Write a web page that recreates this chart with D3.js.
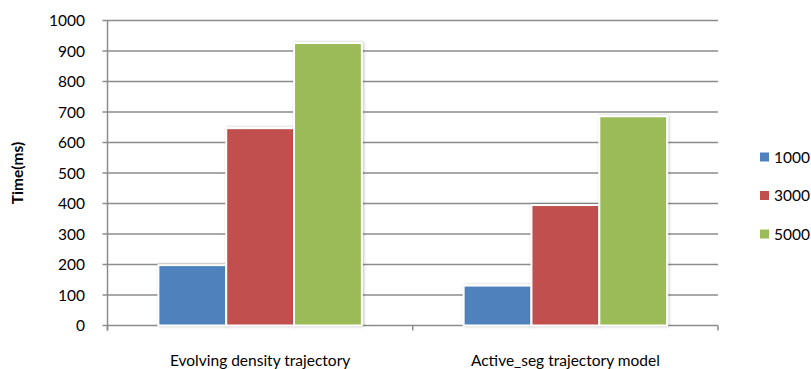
<!DOCTYPE html>
<html>
<head>
<meta charset="utf-8">
<script src="https://cdn.jsdelivr.net/npm/d3@7/dist/d3.min.js"></script>
<style>
  html, body { margin: 0; padding: 0; background: #ffffff; }
  svg { display: block; }
  text { font-family: Lato, "Open Sans", sans-serif; fill: #000; }
</style>
</head>
<body>
<svg id="chart" width="811" height="369"></svg>
<script>
const categories = ["Evolving density trajectory", "Active_seg trajectory model"];
const seriesNames = ["1000", "3000", "5000"];
const series1000 = [198, 131];
const series3000 = [647, 395];
const series5000 = [926, 686];
const seriesColors = ["#4F81BD", "#C0504D", "#9BBB59"];
const yTicks = [0, 100, 200, 300, 400, 500, 600, 700, 800, 900, 1000];
const yTitle = "Time(ms)";

const seriesValues = [series1000, series3000, series5000];

(function () {
const svg = d3.select("#chart");
const pLeft = 107.5, pRight = 718, pTop = 20.5, pBottom = 325.5;

const defs = svg.append("defs");
const f = defs.append("filter").attr("id", "shadow").attr("x", "-20%").attr("y", "-20%").attr("width", "140%").attr("height", "140%");
f.append("feDropShadow").attr("dx", 1).attr("dy", 0).attr("stdDeviation", 1.5).attr("flood-color", "#000").attr("flood-opacity", 0.25);

const x0 = d3.scaleBand().domain(categories).range([pLeft, pRight]).paddingInner(0).paddingOuter(0);
const x1 = d3.scaleBand().domain(seriesNames).range([0, x0.bandwidth()]).paddingInner(0).paddingOuter(0.75);
const y = d3.scaleLinear().domain([0, 1000]).range([pBottom, pTop]);

// gridlines
svg.append("g").selectAll("line").data(yTicks).enter().append("line")
  .attr("x1", pLeft - 5).attr("x2", pRight)
  .attr("y1", d => y(d)).attr("y2", d => y(d))
  .attr("stroke", "#8c8c8c").attr("stroke-width", 1.5);

// y axis line
svg.append("line").attr("x1", pLeft).attr("x2", pLeft).attr("y1", pTop).attr("y2", pBottom + 5)
  .attr("stroke", "#8c8c8c").attr("stroke-width", 1.5);

// x axis ticks at category boundaries
const bounds = [pLeft].concat(categories.map(c => x0(c) + x0.bandwidth()));
svg.append("g").selectAll("line").data(bounds).enter().append("line")
  .attr("x1", d => d).attr("x2", d => d).attr("y1", pBottom).attr("y2", pBottom + 5)
  .attr("stroke", "#8c8c8c").attr("stroke-width", 1.5);

// y tick labels
svg.append("g").selectAll("text").data(yTicks).enter().append("text")
  .attr("x", 85).attr("y", d => y(d) + 5.5)
  .attr("text-anchor", "end").attr("font-size", 15.5)
  .text(d => d);

// bars
const groups = svg.append("g").selectAll("g").data(categories).enter().append("g")
  .attr("transform", c => `translate(${x0(c)},0)`);
groups.selectAll("rect").data((c, ci) => seriesNames.map((s, si) => ({ s, si, v: seriesValues[si][ci] })))
  .enter().append("rect")
  .attr("x", d => x1(d.s))
  .attr("width", x1.bandwidth())
  .attr("y", d => y(d.v))
  .attr("height", d => y(0) - y(d.v))
  .attr("fill", d => seriesColors[d.si])
  .attr("stroke", "#ffffff").attr("stroke-width", 2)
  .attr("filter", "url(#shadow)");

// category labels
svg.append("g").selectAll("text").data(categories).enter().append("text")
  .attr("x", c => x0(c) + x0.bandwidth() / 2).attr("y", 366)
  .attr("text-anchor", "middle").attr("font-size", 15.5)
  .text(c => c);

// y title
svg.append("text")
  .attr("transform", `translate(23,173) rotate(-90)`)
  .attr("text-anchor", "middle").attr("font-size", 15.5).attr("font-weight", "bold")
  .text(yTitle);

// legend
const leg = svg.append("g").selectAll("g").data(seriesNames).enter().append("g")
  .attr("transform", (s, i) => `translate(760,${157 + i * 38.5})`);
leg.append("rect").attr("x", 0).attr("y", -4.5).attr("width", 9).attr("height", 9)
  .attr("fill", (s, i) => seriesColors[i]);
leg.append("text").attr("x", 14).attr("y", 5.5).attr("font-size", 15.5).text(s => s);
})();
</script>
</body>
</html>
